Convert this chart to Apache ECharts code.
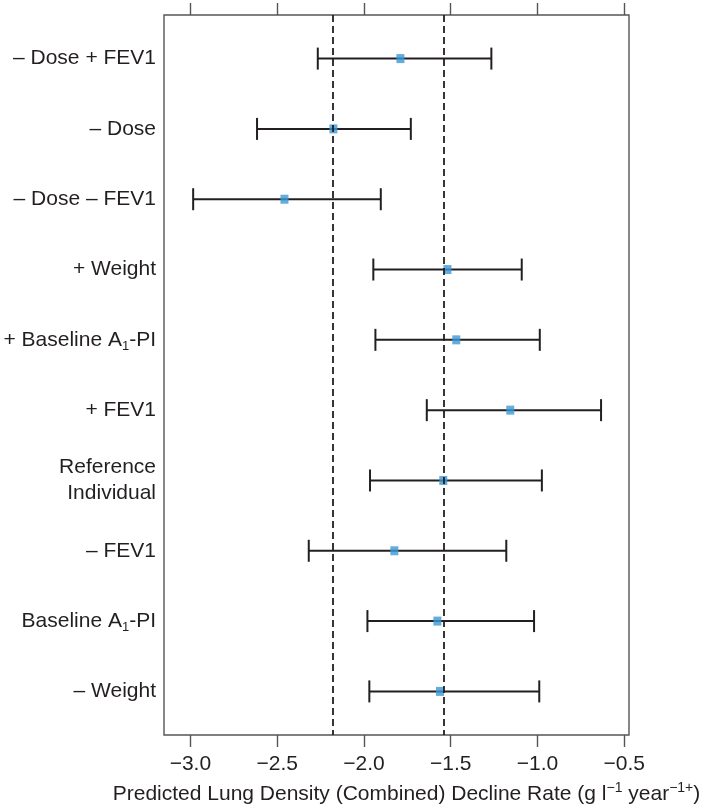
<!DOCTYPE html>
<html>
<head>
<meta charset="utf-8">
<script src="https://cdn.jsdelivr.net/npm/echarts@6/dist/echarts.min.js"></script>
<style>
html,body{margin:0;padding:0;background:#fff;}
#chart{width:709px;height:812px;}
</style>
</head>
<body>
<div id="chart"></div>
<script>
// ---- data ----
const categories = ['– Dose + FEV1', '– Dose', '– Dose – FEV1', '+ Weight', '+ Baseline A₁-PI',
  '+ FEV1', 'Reference\nIndividual', '– FEV1', 'Baseline A₁-PI', '– Weight'];
const estimates = [-1.790, -2.176, -2.458, -1.519, -1.468, -1.157, -1.543, -1.825, -1.577, -1.562];
const lowerCI   = [-2.266, -2.616, -2.984, -1.946, -1.934, -1.638, -1.965, -2.318, -1.980, -1.969];
const upperCI   = [-1.266, -1.730, -1.903, -1.091, -0.987, -0.634, -0.975, -1.180, -1.020, -0.990];
const refLines  = [-2.176, -1.543];
const xTicks    = [-3.0, -2.5, -2.0, -1.5, -1.0, -0.5];
const xTitle    = 'Predicted Lung Density (Combined) Decline Rate (g l{sup|−1} year{sup|−1+})';

const rowPos = categories.map((c, i) => i + 1);
const ink = '#231f20';
const frame = '#555555';
const font = '"Liberation Sans", Arial, Helvetica, sans-serif';

const chart = echarts.init(document.getElementById('chart'), null, {renderer: 'canvas'});
const option = {
  animation: false,
  backgroundColor: '#ffffff',
  grid: {left: 164, right: 80, top: 15, bottom: 75, show: true, borderColor: frame, borderWidth: 1.4, backgroundColor: 'transparent'},
  xAxis: [{
    type: 'value', position: 'bottom', min: -3.152, max: -0.473,
    axisLine: {show: false},
    splitLine: {show: false},
    axisTick: {show: true, customValues: xTicks, length: 12, inside: false, lineStyle: {color: frame, width: 1.4}},
    axisLabel: {customValues: xTicks, margin: 19, fontSize: 21, color: ink, fontFamily: font,
      formatter: v => v.toFixed(1).replace('-', '−')},
    name: xTitle, nameLocation: 'middle', nameGap: 46,
    nameTextStyle: {fontSize: 21, color: ink, fontFamily: font, lineHeight: 26, padding: [0, 0, 0, 20],
      rich: {sup: {fontSize: 14, lineHeight: 14, verticalAlign: 'top', color: ink, fontFamily: font}}}
  }, {
    type: 'value', position: 'top', min: -3.152, max: -0.473,
    axisLine: {show: false},
    splitLine: {show: false},
    axisTick: {show: true, customValues: xTicks, length: 12, inside: false, lineStyle: {color: frame, width: 1.4}},
    axisLabel: {show: false}
  }],
  yAxis: {
    type: 'value', inverse: true, min: 0.38, max: 10.62,
    axisLine: {show: false}, axisTick: {show: false}, splitLine: {show: false},
    axisLabel: {
      customValues: rowPos, margin: 8, fontSize: 21, color: ink, fontFamily: font, lineHeight: 26, align: 'right',
      formatter: v => {
        const c = categories[Math.round(v) - 1];
        return c ? c.replace('₁', '{sub|1}') : '';
      },
      rich: {sub: {fontSize: 13, lineHeight: 13, verticalAlign: 'bottom', color: ink, fontFamily: font}}
    }
  },
  series: [{
    type: 'custom', name: 'ci', z: 2,
    xAxisIndex: 0, yAxisIndex: 0,
    encode: {x: [1, 2], y: 0},
    data: rowPos.map((r, i) => [r, lowerCI[i], upperCI[i]]),
    renderItem: (params, api) => {
      const a = api.coord([api.value(1), api.value(0)]);
      const b = api.coord([api.value(2), api.value(0)]);
      const h = 11;
      const st = {stroke: ink, lineWidth: 2, fill: null};
      return {type: 'group', children: [
        {type: 'line', shape: {x1: a[0], y1: a[1], x2: b[0], y2: b[1]}, style: st},
        {type: 'line', shape: {x1: a[0], y1: a[1] - h, x2: a[0], y2: a[1] + h}, style: st},
        {type: 'line', shape: {x1: b[0], y1: b[1] - h, x2: b[0], y2: b[1] + h}, style: st}
      ]};
    },
    markLine: {
      silent: true, symbol: ['none', 'none'], label: {show: false},
      lineStyle: {color: ink, type: [7, 4], width: 1.8},
      data: refLines.map(v => ({xAxis: v}))
    }
  }, {
    type: 'scatter', name: 'estimate', z: 3,
    symbol: 'rect', symbolSize: [8, 9],
    itemStyle: {color: '#3b99d6'},
    data: rowPos.map((r, i) => [estimates[i], r])
  }]
};
chart.setOption(option);
</script>
</body>
</html>
